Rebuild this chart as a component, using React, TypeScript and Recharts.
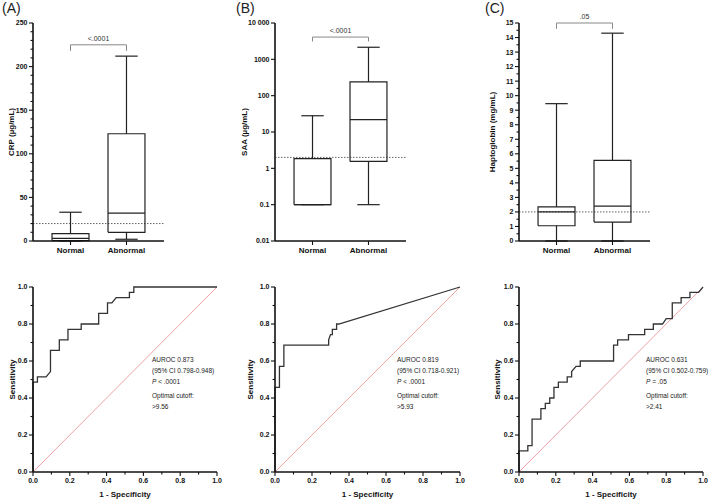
import { ComposedChart, Line, XAxis, YAxis, ReferenceLine, ReferenceDot } from "recharts"

const groups = ["Normal", "Abnormal"]

// box plot stats per group: min, Q1, median, Q3, max
const crpNormal = [0, 0.5, 3, 8.5, 33]
const crpAbnormal = [2, 10, 32, 123, 212]
const saaNormal = [0.1, 0.1, 0.1, 1.85, 28]
const saaAbnormal = [0.1, 1.55, 22, 240, 2150]
const hpNormal = [0, 1.05, 2, 2.35, 9.45]
const hpAbnormal = [0, 1.3, 2.4, 5.55, 14.3]

// dotted cutoff line and p value for each marker
const cutoffs = [20, 2, 2]
const pValues = ["<.0001", "<.0001", ".05"]

// axis tick labels
const crpTicks = [0, 50, 100, 150, 200, 250]
const saaTicks = [0.01, 0.1, 1, 10, 100, 1000, 10000]
const saaTickLabels = ["0.01", "0.1", "1", "10", "100", "1000", "10 000"]
const hpTicks = [0, 1, 2, 3, 4, 5, 6, 7, 8, 9, 10, 11, 12, 13, 14, 15]
const rocTicks = [0, 0.2, 0.4, 0.6, 0.8, 1]

// ROC curves: 1 - specificity / sensitivity
const rocAX = [0, 0, 0.024, 0.024, 0.071, 0.095, 0.095, 0.143, 0.143, 0.19, 0.19, 0.262, 0.262, 0.357, 0.357, 0.405, 0.405, 0.429, 0.452, 0.524, 0.524, 0.548, 0.548, 1]
const rocAY = [0, 0.486, 0.486, 0.514, 0.514, 0.543, 0.657, 0.657, 0.714, 0.714, 0.771, 0.771, 0.8, 0.8, 0.857, 0.857, 0.914, 0.914, 0.943, 0.943, 0.971, 0.971, 1, 1]
const rocBX = [0, 0, 0.024, 0.024, 0.048, 0.048, 0.29, 0.29, 0.3, 0.31, 0.31, 0.333, 0.333, 0.345, 1]
const rocBY = [0, 0.457, 0.457, 0.571, 0.571, 0.686, 0.686, 0.714, 0.743, 0.743, 0.771, 0.771, 0.8, 0.8, 1]
const rocCX = [0, 0, 0.048, 0.048, 0.071, 0.071, 0.119, 0.119, 0.143, 0.143, 0.167, 0.167, 0.19, 0.19, 0.214, 0.214, 0.262, 0.262, 0.286, 0.286, 0.31, 0.333, 0.333, 0.514, 0.514, 0.536, 0.536, 0.595, 0.595, 0.683, 0.683, 0.73, 0.73, 0.78, 0.8, 0.833, 0.833, 0.881, 0.881, 0.929, 0.929, 0.976, 1]
const rocCY = [0, 0.114, 0.114, 0.143, 0.143, 0.286, 0.286, 0.343, 0.343, 0.371, 0.371, 0.4, 0.4, 0.457, 0.457, 0.486, 0.486, 0.514, 0.514, 0.543, 0.571, 0.571, 0.6, 0.6, 0.686, 0.686, 0.714, 0.714, 0.743, 0.743, 0.771, 0.771, 0.8, 0.8, 0.829, 0.829, 0.914, 0.914, 0.943, 0.943, 0.971, 0.971, 1]

const aurocs = ["0.873", "0.819", "0.631"]
const aurocCI = ["0.798-0.948", "0.718-0.921", "0.502-0.759"]
const rocP = ["< .0001", "< .0001", "= .05"]
const optimalCutoffs = [">9.56", ">5.93", ">2.41"]

const FONT = "'Liberation Sans', Arial, sans-serif"
const axisStyle = { stroke: "#111", strokeWidth: 1.6 }
const titleStyle = { textAnchor: "middle", fontSize: 8, fontWeight: "bold", fill: "#111" } as any
const BOX_HALF = 0.33
const CAP_HALF = 0.2

const near = (a: number, b: number) => Math.abs(a - b) < 1e-9 * Math.max(1, Math.abs(b))

function makeYTick(major: number[], fmt: (v: number) => string) {
  return (props: any) => {
    const { x, y, payload } = props
    const v = payload.value
    const isMajor = major.some((m) => near(v, m))
    return (
      <g>
        <line x1={x - (isMajor ? 4 : 2.5)} x2={x} y1={y} y2={y} stroke="#111" strokeWidth={1.1} />
        {isMajor && (
          <text x={x - 5.5} y={y} dy="0.35em" textAnchor="end" fontSize={7} fontWeight="bold" fill="#111">
            {fmt(v)}
          </text>
        )}
      </g>
    )
  }
}

function makeXTick(major: number[], fmt: (v: number) => string, gap: number, size: number) {
  return (props: any) => {
    const { x, y, payload } = props
    const v = payload.value
    const isMajor = major.some((m) => near(v, m))
    return (
      <g>
        <line x1={x} x2={x} y1={y} y2={y + (isMajor ? 4 : 2.5)} stroke="#111" strokeWidth={1.1} />
        {isMajor && (
          <text x={x} y={y + gap} textAnchor="middle" fontSize={size} fontWeight="bold" fill="#111">
            {fmt(v)}
          </text>
        )}
      </g>
    )
  }
}

function boxSegments(s: number[], pos: number) {
  const [min, q1, med, q3, max] = s
  return [
    [[pos - BOX_HALF, q1], [pos + BOX_HALF, q1], [pos + BOX_HALF, q3], [pos - BOX_HALF, q3], [pos - BOX_HALF, q1]],
    [[pos - BOX_HALF, med], [pos + BOX_HALF, med]],
    [[pos, q3], [pos, max]],
    [[pos, q1], [pos, min]],
    [[pos - CAP_HALF, max], [pos + CAP_HALF, max]],
    [[pos - CAP_HALF, min], [pos + CAP_HALF, min]],
  ].map((seg) => seg.map(([x, y]) => ({ x, y })))
}

function BoxPanel(props: any) {
  const { left, axisW, title, labelOffset, stats, cutoff, p, bracket, log, domain, ticks, major, fmt } = props
  const segs = stats.flatMap((s: number[], i: number) => boxSegments(s, i + 1))
  const bracketPts = [
    { x: 1, y: bracket[1] },
    { x: 1, y: bracket[0] },
    { x: 2, y: bracket[0] },
    { x: 2, y: bracket[1] },
  ]
  return (
    <div style={{ position: "absolute", left, top: 0 }}>
      <ComposedChart width={axisW + 131 + 6} height={259} margin={{ top: 23, right: 6, bottom: 0, left: 0 }}>
        <XAxis
          dataKey="x"
          type="number"
          domain={[0.33, 2.67]}
          ticks={[1, 2]}
          interval={0}
          height={18}
          tickSize={0}
          tickMargin={0}
          tickLine={false}
          axisLine={axisStyle}
          tick={makeXTick([1, 2], (v) => groups[v - 1], 12, 8)}
        />
        <YAxis
          type="number"
          scale={log ? "log" : "linear"}
          domain={domain}
          ticks={ticks}
          interval={0}
          width={axisW}
          tickSize={0}
          tickMargin={0}
          tickLine={false}
          axisLine={axisStyle}
          tick={makeYTick(major, fmt)}
          label={{ value: title, angle: -90, position: "insideLeft", offset: labelOffset, style: titleStyle }}
        />
        <ReferenceLine y={cutoff} stroke="#555" strokeWidth={0.9} strokeDasharray="1.5 1.5" />
        {segs.map((d: any[], i: number) => (
          <Line
            key={i}
            data={d}
            dataKey="y"
            type="linear"
            stroke="#222"
            strokeWidth={1.2}
            dot={false}
            activeDot={false}
            isAnimationActive={false}
          />
        ))}
        <Line
          data={bracketPts}
          dataKey="y"
          type="linear"
          stroke="#888"
          strokeWidth={1}
          dot={false}
          activeDot={false}
          isAnimationActive={false}
        />
        <ReferenceDot
          x={1.5}
          y={bracket[0]}
          r={0}
          fill="none"
          stroke="none"
          label={{ value: p, position: "top", offset: 4, style: { fontSize: 7, fill: "#333" } }}
        />
      </ComposedChart>
    </div>
  )
}

const rocMinor = Array.from({ length: 11 }, (_, i) => i / 10)

function RocPanel(props: any) {
  const { left, axisW, plotW, labelOffset, xs, ys, textX, idx } = props
  const pts = xs.map((x: number, i: number) => ({ x, y: ys[i] }))
  const fs = 6.5
  const t = { fontSize: fs, fill: "#222" }
  return (
    <div style={{ position: "absolute", left, top: 270 }}>
      <ComposedChart width={axisW + plotW + 6} height={229} margin={{ top: 17, right: 6, bottom: 0, left: 0 }}>
        <XAxis
          dataKey="x"
          type="number"
          domain={[0, 1]}
          ticks={rocMinor}
          interval={0}
          height={27}
          tickSize={0}
          tickMargin={0}
          tickLine={false}
          axisLine={axisStyle}
          tick={makeXTick(rocTicks, (v) => v.toFixed(1), 11, 7)}
          label={{ value: "1 - Specificity", position: "insideBottom", offset: 2, style: titleStyle }}
        />
        <YAxis
          type="number"
          domain={[0, 1]}
          ticks={rocMinor}
          interval={0}
          width={axisW}
          tickSize={0}
          tickMargin={0}
          tickLine={false}
          axisLine={axisStyle}
          tick={makeYTick(rocTicks, (v) => v.toFixed(1))}
          label={{ value: "Sensitivity", angle: -90, position: "insideLeft", offset: labelOffset, style: titleStyle }}
        />
        <ReferenceLine segment={[{ x: 0, y: 0 }, { x: 1, y: 1 }]} stroke="#e8898b" strokeWidth={0.8} />
        <Line
          data={pts}
          dataKey="y"
          type="linear"
          stroke="#333"
          strokeWidth={1.3}
          dot={false}
          activeDot={false}
          isAnimationActive={false}
        />
        <text x={textX} y={92} {...t}>AUROC {aurocs[idx]}</text>
        <text x={textX} y={103} {...t}>(95% CI {aurocCI[idx]})</text>
        <text x={textX} y={114} {...t}>
          <tspan fontStyle="italic">P</tspan> {rocP[idx]}
        </text>
        <text x={textX} y={128} {...t}>Optimal cutoff:</text>
        <text x={textX} y={139} {...t}>{optimalCutoffs[idx]}</text>
      </ComposedChart>
    </div>
  )
}

const letterStyle = (left: number) =>
  ({ position: "absolute", left, top: 0, fontSize: 14, lineHeight: "16px", color: "#222" }) as any

export default function App() {
  return (
    <div
      style={{
        position: "absolute",
        left: 0,
        top: 0,
        width: 709,
        height: 499,
        background: "#fff",
        fontFamily: FONT,
        overflow: "hidden",
      }}
    >
      <div style={letterStyle(2)}>(A)</div>
      <div style={letterStyle(236)}>(B)</div>
      <div style={letterStyle(485)}>(C)</div>

      <BoxPanel
        left={0}
        axisW={33}
        title="CRP (µg/mL)"
        labelOffset={11}
        stats={[crpNormal, crpAbnormal]}
        cutoff={cutoffs[0]}
        p={pValues[0]}
        bracket={[225, 218]}
        domain={[0, 250]}
        ticks={Array.from({ length: 26 }, (_, i) => i * 10)}
        major={crpTicks}
        fmt={(v: number) => String(v)}
      />
      <BoxPanel
        left={235}
        axisW={40}
        title="SAA (µg/mL)"
        labelOffset={9}
        stats={[saaNormal, saaAbnormal]}
        cutoff={cutoffs[1]}
        p={pValues[1]}
        bracket={[4100, 3100]}
        log
        domain={[0.01, 10000]}
        ticks={saaTicks}
        major={saaTicks}
        fmt={(v: number) => saaTickLabels[saaTicks.findIndex((t) => near(v, t))]}
      />
      <BoxPanel
        left={470}
        axisW={49}
        title="Haptoglobin (mg/mL)"
        labelOffset={22}
        stats={[hpNormal, hpAbnormal]}
        cutoff={cutoffs[2]}
        p={pValues[2]}
        bracket={[15, 14.6]}
        domain={[0, 15]}
        ticks={Array.from({ length: 31 }, (_, i) => i / 2)}
        major={hpTicks}
        fmt={(v: number) => String(v)}
      />

      <RocPanel left={0} axisW={33} plotW={184} labelOffset={12} xs={rocAX} ys={rocAY} textX={152} idx={0} />
      <RocPanel left={235} axisW={40} plotW={185} labelOffset={15} xs={rocBX} ys={rocBY} textX={162} idx={1} />
      <RocPanel left={470} axisW={49} plotW={184} labelOffset={27} xs={rocCX} ys={rocCY} textX={176} idx={2} />
    </div>
  )
}
